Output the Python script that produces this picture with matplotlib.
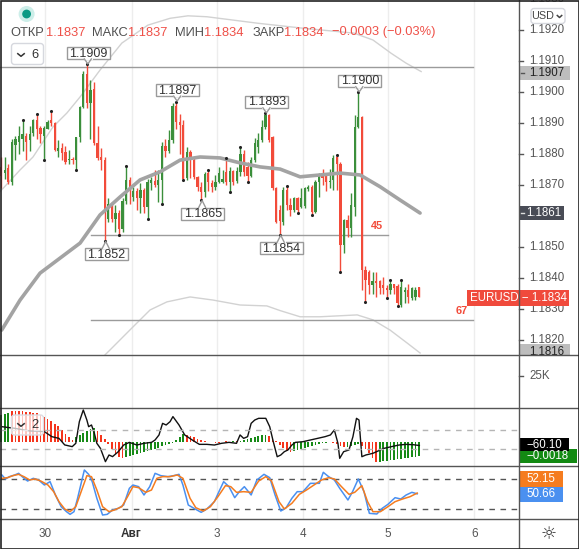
import numpy as np
import matplotlib
matplotlib.use("Agg")
import matplotlib.pyplot as plt
from matplotlib.patches import Rectangle, FancyBboxPatch, Circle

plt.rcParams['font.family'] = ['Liberation Sans', 'DejaVu Sans']

# ---------------- data (EURUSD, 1h candles) ----------------
opens = [1.1876, 1.1874, 1.18755, 1.1871, 1.1883, 1.1884, 1.1885, 1.1886, 1.18845, 1.18867,
         1.1891, 1.18885, 1.1886, 1.18883, 1.1891, 1.1890, 1.1881, 1.1882, 1.18808, 1.1878,
         1.18783, 1.1878, 1.18855, 1.18953, 1.1906, 1.18964, 1.1901, 1.18835, 1.1879, 1.1878,
         1.1859, 1.1864, 1.1859, 1.1861, 1.1856, 1.1865, 1.18717, 1.18663, 1.1868, 1.18657,
         1.18686, 1.1863, 1.18706, 1.18714, 1.1870, 1.18717, 1.18826, 1.1881, 1.18846, 1.18956,
         1.18905, 1.18894, 1.18723, 1.18808, 1.18781, 1.18727, 1.18695, 1.18678, 1.18738, 1.18708,
         1.18693, 1.18711, 1.18711, 1.18744, 1.18711, 1.18747, 1.18715, 1.18744, 1.1880, 1.18759,
         1.1873, 1.18781, 1.18824, 1.18846, 1.18889, 1.18926, 1.18857, 1.1869, 1.1862, 1.18582,
         1.18684, 1.18636, 1.1862, 1.18657, 1.1863, 1.18632, 1.18689, 1.18693, 1.18614, 1.18711,
         1.18733, 1.18733, 1.1871, 1.18717, 1.18792, 1.1877, 1.18507, 1.18588, 1.18561, 1.1863,
         1.18889, 1.18921, 1.18426, 1.1842, 1.18378, 1.18389, 1.18389, 1.18378, 1.18367, 1.1836,
         1.18381, 1.18375, 1.18313, 1.18355, 1.1836, 1.18335, 1.1834, 1.1837]
highs = [1.1879, 1.1879, 1.1877, 1.1885, 1.1886, 1.1889, 1.1891, 1.1887, 1.1889, 1.18915,
         1.1893, 1.1889, 1.1889, 1.1891, 1.1894, 1.18905, 1.18845, 1.18835, 1.18825, 1.18815,
         1.1879, 1.18857, 1.18955, 1.1907, 1.1909, 1.1904, 1.19034, 1.1889, 1.1882, 1.1879,
         1.18657, 1.18645, 1.18636, 1.1862, 1.1866, 1.18762, 1.18727, 1.18695, 1.1869, 1.18706,
         1.1869, 1.1872, 1.18725, 1.18749, 1.1875, 1.1884, 1.1885, 1.18878, 1.18964, 1.1897,
         1.1893, 1.1891, 1.18824, 1.18814, 1.1879, 1.1873, 1.1871, 1.18744, 1.18749, 1.18717,
         1.18733, 1.1876, 1.18749, 1.18787, 1.1876, 1.1875, 1.1876, 1.18824, 1.18814, 1.18776,
         1.1879, 1.18851, 1.18867, 1.1891, 1.18932, 1.1893, 1.1886, 1.18695, 1.18635, 1.18693,
         1.18697, 1.1866, 1.18663, 1.18663, 1.1869, 1.18695, 1.1870, 1.1870, 1.18717, 1.18738,
         1.18751, 1.1874, 1.18753, 1.18798, 1.18798, 1.18775, 1.1859, 1.18604, 1.18674, 1.18927,
         1.1900, 1.18924, 1.1844, 1.18426, 1.1842, 1.1842, 1.18395, 1.18404, 1.18378, 1.18394,
         1.18382, 1.1838, 1.18394, 1.18372, 1.1838, 1.18372, 1.18372, 1.1837]
lows = [1.1869, 1.1872, 1.18705, 1.1870, 1.1878, 1.1880, 1.1881, 1.1878, 1.1881, 1.1886,
        1.1885, 1.18835, 1.1878, 1.1888, 1.1889, 1.1881, 1.1879, 1.1878, 1.1877, 1.1877,
        1.1877, 1.1875, 1.1884, 1.1895, 1.1895, 1.1885, 1.1883, 1.1878, 1.1875, 1.1852,
        1.1858, 1.1858, 1.1855, 1.1854, 1.1855, 1.1864, 1.1864, 1.1865, 1.1862, 1.1861,
        1.1861, 1.1859, 1.18685, 1.18695, 1.18647, 1.1864, 1.1879, 1.18803, 1.18835, 1.1888,
        1.1880, 1.18717, 1.18717, 1.18722, 1.1872, 1.1868, 1.18652, 1.18663, 1.1868, 1.18679,
        1.18684, 1.18706, 1.18706, 1.1870, 1.18679, 1.1870, 1.18706, 1.1873, 1.1873, 1.18711,
        1.18727, 1.18775, 1.18803, 1.1884, 1.1888, 1.1884, 1.18685, 1.18577, 1.1854, 1.18572,
        1.1862, 1.1860, 1.18614, 1.18611, 1.18625, 1.18625, 1.1868, 1.18604, 1.18609, 1.18663,
        1.1870, 1.1868, 1.1869, 1.18685, 1.18685, 1.18421, 1.1848, 1.18534, 1.18534, 1.1860,
        1.18884, 1.1836, 1.18324, 1.1835, 1.1835, 1.1834, 1.1835, 1.1835, 1.18335, 1.1835,
        1.1835, 1.1831, 1.18308, 1.18318, 1.1832, 1.1833, 1.1833, 1.1834]
closes = [1.1873, 1.1875, 1.1871, 1.1884, 1.1885, 1.1886, 1.18865, 1.1884, 1.18865, 1.1891,
          1.1888, 1.18865, 1.18885, 1.18905, 1.1890, 1.18815, 1.1882, 1.18805, 1.18775, 1.18783,
          1.1878, 1.18855, 1.18953, 1.1906, 1.18964, 1.19007, 1.18835, 1.18787, 1.1878, 1.1861,
          1.1864, 1.1859, 1.1861, 1.1856, 1.1865, 1.18717, 1.18684, 1.1868, 1.18657, 1.18686,
          1.1863, 1.18711, 1.18716, 1.1870, 1.18717, 1.18826, 1.1881, 1.18846, 1.18956, 1.18905,
          1.18894, 1.1872, 1.18808, 1.18781, 1.18727, 1.18695, 1.18678, 1.18736, 1.18711, 1.18693,
          1.18711, 1.1874, 1.18719, 1.18711, 1.18747, 1.18711, 1.18745, 1.1880, 1.18744, 1.1873,
          1.18781, 1.18835, 1.18846, 1.18889, 1.18926, 1.18846, 1.1869, 1.18582, 1.18585, 1.18684,
          1.18636, 1.1862, 1.18657, 1.1862, 1.1866, 1.1869, 1.18693, 1.18614, 1.18711, 1.18733,
          1.18722, 1.18711, 1.18715, 1.18787, 1.1877, 1.18507, 1.18588, 1.18561, 1.18636, 1.18889,
          1.18921, 1.18426, 1.18394, 1.18378, 1.18389, 1.18383, 1.18367, 1.18367, 1.1836, 1.18381,
          1.18367, 1.1832, 1.18372, 1.1836, 1.1834, 1.18367, 1.18361, 1.1834]

fractal_high_idx = [6, 10, 14, 24, 35, 49, 58, 63, 67, 74, 80, 94, 100, 109, 112]
fractal_low_idx = [12, 21, 29, 33, 41, 45, 51, 56, 64, 69, 78, 83, 87, 95, 102, 108, 111]
boxed_high_idx = [24, 49, 74, 100]
boxed_low_idx = [29, 56, 78]

# moving average (thick) and thin envelope lines
ma_x = [0.15, 5.3, 10.9, 22.1, 27.7, 33.3, 38.9, 44.5, 50.1, 55.7, 61.3, 66.9, 72.5, 78.1,
        83.7, 89.3, 94.9, 100.5, 106.1, 111.7, 117.3]
ma_y = [1.18232, 1.18329, 1.18416, 1.18513, 1.18604, 1.18662, 1.18717, 1.18743, 1.18781,
        1.18791, 1.18788, 1.18772, 1.18759, 1.18752, 1.18727, 1.18733, 1.18739, 1.18733,
        1.18695, 1.18652, 1.18610]
ub_x = [-0.32, 5.28, 8.92, 14.5, 18.4, 22.1, 27.7, 33.8, 41.1, 47.3, 52.3, 57.6, 71.9, 84.5,
        98.8, 104.1, 109.2, 113.4, 117.6]
ub_y = [1.18679, 1.18749, 1.18791, 1.18888, 1.18933, 1.18985, 1.19072, 1.19159, 1.19217,
        1.19239, 1.19247, 1.19244, 1.19223, 1.19207, 1.19191, 1.19169, 1.19126, 1.19094, 1.19067]
lb_x = [29.1, 30.5, 36.9, 41.7, 46.4, 52.9, 59.3, 66.9, 74.4, 78.1, 83.7, 89.3, 99.7, 104.1,
        108.9, 113.7, 117.3]
lb_y = [1.18152, 1.18168, 1.18242, 1.18297, 1.18323, 1.18339, 1.18329, 1.18313, 1.18310,
        1.18295, 1.18275, 1.18275, 1.18281, 1.18265, 1.18232, 1.18190, 1.18158]

# drawn horizontal rays
hl_level = [1.19083, 1.18538, 1.18266]
hl_start = [-0.3, 25.2, 25.2]
hl_end = [132.1, 108.3, 132.1]

# MACD-like histogram and its colours (g = green, r = red)
hist = [27, 28, 29, 31, 31, 31, 31, 30, 30, 29, 29, 27, 25, 23, 21, 18, 16, 12, 8, 5, 2,
        5, 7, 9, 11, 13, 14,
        11, 7, 3, -2,
        -7, -12, -15, -16,
        -15, -14, -13, -12, -11, -10, -9, -8, -7, -6, -4, -3, -2, -1,
        2, 5, 8,
        7, 6, 5, 3, 2, 1, 0.5,
        0.5, -1, -1, 0.5, 1, 0.5, 1, 1, 1, 2,
        3, 4, 5, 6, 7, 7.5,
        6, 4, 1, -3, -6, -9, -10,
        -9, -8, -7, -6, -5, -4, -3, -2, -1, -0.5, 0.5,
        -1, -2, -3.5, -4.5,
        -5, -4, -3, -2,
        -4, -7, -11, -16, -20,
        -19.5, -19, -18.5, -18, -17.5, -17, -16.5, -16, -15.5, -15, -14.5, -14]
hist_col = ("ggg" + "rrrrrrrrrrrrrrrrrr" + "gggggg" + "rrrrrrrr" + "ggggggggggggggggg" +
            "rrrrrrr" + "grrgrggrgg" + "gggggg" + "rrrrrrr" + "ggggggggggg" + "rrrr" +
            "gggg" + "rrrrr" + "gggggggggggg")

cci_points = [(0.2, 138), (3.8, 121), (8.0, 93), (12.1, 86), (14.2, 33), (16.2, 15), (17.8, -54),
              (19.9, -72), (20.9, -37), (21.9, 191), (23.0, 314), (24.0, 208), (24.5, 138),
              (25.3, 156), (26.1, 68), (26.8, -37), (27.8, -90), (29.2, -230), (30.2, -160),
              (31.2, -177), (32.8, -125), (34.3, -55), (35.9, -27), (38.0, -55), (40.0, -37),
              (42.1, -27), (43.1, -2), (44.2, 51), (45.2, 173), (46.2, 156), (47.3, 191),
              (48.1, 244), (48.8, 208), (49.8, 156), (51.4, 51), (53.5, -2), (55.5, -48),
              (57.6, -48), (59.7, -55), (61.7, -37), (63.8, -27), (65.9, -37), (66.9, 51),
              (67.9, 15), (69.0, 33), (70.0, 173), (71.0, 208), (72.1, 226), (74.1, 226),
              (75.2, 138), (76.2, -20), (77.3, -178), (78.3, -160), (79.3, -125), (80.3, -107),
              (81.4, -55), (82.4, -27), (84.5, -20), (86.6, -2), (88.6, 15), (90.7, 33),
              (92.2, 51), (93.3, 103), (94.3, -37), (94.8, -195), (95.9, -125), (97.4, -107),
              (98.5, 33), (99.5, 226), (100.2, 208), (101.0, -178), (102.1, -160), (104.1, -142),
              (107.2, -90), (109.3, -72), (111.4, -55), (113.4, -48), (115.5, -52), (117.1, -60.10)]

stoch_k_points = [(0.2, 87.9), (1.2, 80.0), (2.3, 84.6), (3.8, 87.9), (4.9, 91.2), (5.9, 84.6),
                  (7.4, 76.0), (9.0, 81.3), (10.5, 78.0), (12.1, 68.1), (13.7, 74.7), (15.2, 48.3),
                  (16.8, 25.2), (18.3, 15.3), (19.3, 10.0), (20.4, 15.3), (21.4, 41.7), (22.4, 71.4),
                  (23.3, 97.8), (24.5, 89.2), (25.5, 74.7), (26.8, 41.7), (28.4, 8.7), (29.7, 10.0),
                  (31.2, 18.6), (32.8, 21.9), (34.3, 28.5), (35.9, 61.5), (36.9, 68.1), (38.5, 64.8),
                  (40.0, 48.3), (41.6, 64.8), (43.1, 91.2), (44.7, 86.6), (46.7, 84.6), (48.3, 86.6),
                  (49.8, 89.2), (50.9, 68.1), (52.4, 28.5), (54.0, 21.9), (56.0, 14.0), (57.6, 20.6),
                  (59.7, 35.1), (61.2, 58.2), (62.3, 74.7), (63.8, 64.8), (65.4, 43.0), (66.7, 54.9),
                  (68.1, 64.8), (70.0, 48.3), (71.6, 78.0), (73.6, 89.2), (75.2, 82.6), (76.7, 48.3),
                  (78.3, 16.6), (79.8, 23.2), (81.4, 41.7), (82.9, 54.9), (84.5, 54.9), (86.6, 71.4),
                  (89.1, 71.4), (90.2, 93.2), (91.7, 84.6), (93.3, 78.0), (94.8, 61.5), (97.1, 38.4),
                  (98.4, 54.9), (100.0, 80.0), (101.6, 54.9), (103.1, 12.0), (105.2, 10.7),
                  (106.7, 21.9), (108.3, 29.8), (110.3, 43.0), (111.9, 40.4), (113.4, 48.3),
                  (115.0, 53.6), (116.5, 50.66)]
stoch_d_points = [(0.2, 81.3), (1.8, 82.6), (3.3, 86.6), (4.9, 89.2), (6.4, 84.6), (8.0, 78.0),
                  (9.5, 80.0), (11.1, 76.0), (13.1, 68.1), (14.7, 54.9), (16.2, 35.1), (17.8, 20.6),
                  (19.3, 15.3), (20.9, 25.2), (22.4, 54.9), (24.0, 86.6), (25.3, 84.6), (26.8, 58.2),
                  (28.4, 25.2), (30.2, 15.3), (31.7, 18.6), (33.8, 25.2), (35.4, 45.0), (36.9, 64.8),
                  (38.5, 62.8), (40.5, 53.6), (42.1, 58.2), (43.6, 81.3), (45.2, 84.6), (47.3, 84.6),
                  (49.3, 87.9), (50.9, 81.3), (52.9, 41.7), (54.5, 23.2), (56.6, 16.6), (58.6, 25.2),
                  (60.7, 45.0), (62.8, 66.8), (64.3, 64.8), (65.9, 53.6), (67.9, 54.9), (70.0, 53.6),
                  (72.1, 76.0), (74.1, 84.6), (75.7, 76.0), (77.8, 35.1), (79.3, 20.6), (81.4, 31.8),
                  (83.5, 49.6), (85.5, 58.2), (87.6, 68.1), (89.7, 78.0), (91.7, 82.6), (93.3, 80.0),
                  (95.3, 64.8), (97.4, 49.6), (99.0, 53.6), (101.0, 66.8), (102.6, 35.1),
                  (104.1, 15.3), (106.2, 15.3), (108.3, 25.2), (110.3, 35.1), (112.4, 40.4),
                  (114.5, 45.0), (116.5, 52.15)]

day_ticks = [12.3, 36.5, 60.4, 84.4, 108.4, 132.5]
day_labels = ['30', 'Авг', '3', '4', '5', '6']
price_ticks = [1.182, 1.183, 1.184, 1.185, 1.187, 1.188, 1.189, 1.190, 1.191, 1.192, 1.193]

hdr_labels = ['ОТКР', 'МАКС', 'МИН', 'ЗАКР']
hdr_values = ['1.1837', '1.1837', '1.1834', '1.1834']
hdr_change = '−0.0003 (−0.03%)'

# ---------------- styling ----------------
GREEN = '#3b8f3b'
RED = '#f24b3a'
HG = '#178a17'
HR = '#f5351c'
TXT = '#555555'
SEP = '#555555'
GRID = '#ededed'

W, H = 579, 549
fig = plt.figure(figsize=(W / 100, H / 100), dpi=100)
fig.patch.set_facecolor('white')


def frect(x0, y0, x1, y1):
    return [x0 / W, 1 - y1 / H, (x1 - x0) / W, (y1 - y0) / H]


XL = (-0.32, 145.0)
ax = fig.add_axes(frect(0, 0, 519, 355))
axv = fig.add_axes(frect(0, 355, 519, 408))
axm = fig.add_axes(frect(0, 408, 519, 466))
axc = fig.add_axes(frect(0, 408, 519, 466))
axs = fig.add_axes(frect(0, 466, 519, 519))
for a in (ax, axv, axm, axc, axs):
    a.set_xlim(*XL)
    a.set_axis_off()
ov = fig.add_axes([0, 0, 1, 1])
ov.set_xlim(0, W)
ov.set_ylim(H, 0)
ov.set_axis_off()

ax.set_ylim(1.181515, 1.192981)
axm.set_ylim(-23.7, 34.3)
axc.set_ylim(-275.8, 334.7)
axs.set_ylim(0.8, 105.7)
axv.set_ylim(0, 1)

for a in (ax, axv, axm, axs):
    for t in day_ticks:
        a.axvline(t, color=GRID, lw=1, zorder=0)

# ---- candles
o = np.array(opens); hi = np.array(highs); lo = np.array(lows); c = np.array(closes)
idx = np.arange(len(o))
col = [GREEN if cc >= oo else RED for oo, cc in zip(o, c)]
ax.vlines(idx, lo, hi, colors=col, lw=1.0, zorder=3)
body = np.maximum(np.abs(c - o), 0.00003)
ax.bar(idx, body, bottom=np.minimum(o, c), width=0.64, color=col, linewidth=0, zorder=4)

# ---- lines
ax.plot(ub_x, ub_y, color='#d2d2d2', lw=1.0, zorder=2)
ax.plot(lb_x, lb_y, color='#d2d2d2', lw=1.0, zorder=2)
ax.plot(ma_x, ma_y, color='#a3a3a3', lw=2.6, zorder=5, solid_capstyle='round')
for lv, s, e in zip(hl_level, hl_start, hl_end):
    ax.plot([s, e], [lv, lv], color='#9b9b9b', lw=1.0, zorder=2)

ax.scatter(fractal_high_idx, hi[fractal_high_idx], s=5, color='#222222', zorder=6, linewidths=0)
ax.scatter(fractal_low_idx, lo[fractal_low_idx], s=5, color='#222222', zorder=6, linewidths=0)


def px(i):
    return ax.transData.transform((i, 1.187))[0]


def py(v):
    return H - ax.transData.transform((0, v))[1]


# boxed high/low labels
for i in boxed_high_idx + boxed_low_idx:
    is_h = i in boxed_high_idx
    v = hi[i] if is_h else lo[i]
    x = px(i) + 1.5
    y = py(v)
    if is_h:
        cy = y - 11.5
        edge = cy + 6
        tip = y - 0.5
    else:
        cy = y + 13.5
        edge = cy - 6
        tip = y + 0.5
    ov.add_patch(Rectangle((x - 21.5, cy - 6), 43, 12, fc='white', ec='#9a9a9a', lw=1, zorder=8))
    ov.plot([x - 3.5, x + 3.5], [edge, edge], color='white', lw=1.4, zorder=9)
    ov.plot([x - 4, x - 0.5, x + 3], [edge, tip, edge], color='#9a9a9a', lw=1, zorder=9)
    ov.text(x, cy + 0.6, f'{v:.4f}', fontsize=9, color='#333333', ha='center', va='center', zorder=10)

# red numbers on rays
ov.text(377, 226, '45', color=RED, fontsize=7.8, fontweight='bold', ha='center', va='center')
ov.text(462, 311, '67', color=RED, fontsize=7.8, fontweight='bold', ha='center', va='center')

# ---- MACD pane
axm.bar(idx, hist, width=0.5, color=[HG if ch == 'g' else HR for ch in hist_col], linewidth=0)
cx = [p[0] for p in cci_points]
cv = [p[1] for p in cci_points]
axc.plot(cx, cv, color='#111111', lw=1.0)
for lvl in (100, -100):
    axc.axhline(lvl, color='#b5b5b5', lw=1, ls=(0, (4, 4)))

# ---- Stochastic pane
axs.axhline(80, color='#555555', lw=1, ls=(0, (4, 4)))
axs.axhline(20, color='#555555', lw=1, ls=(0, (4, 4)))
axs.plot([p[0] for p in stoch_k_points], [p[1] for p in stoch_k_points], color='#4a90f0', lw=1.1)
axs.plot([p[0] for p in stoch_d_points], [p[1] for p in stoch_d_points], color='#f57c1f', lw=1.1)

# ---- separators & border
for yy in (355, 408, 466, 519):
    ov.plot([0, W], [yy, yy], color=SEP, lw=1, zorder=20)
ov.plot([519, 519], [0, H], color=SEP, lw=1, zorder=20)
ov.add_patch(Rectangle((0.5, 0.5), W - 1, H - 1, fill=False, ec='#222222', lw=1.2, zorder=30))

# ---- price axis
clip = Rectangle((0, 0), W, 355, transform=ov.transData)
for p in price_ticks:
    y = py(p)
    t = ov.text(529, y, f'{p:.4f}', fontsize=8.3, color=TXT, ha='left', va='center', zorder=11)
    t.set_clip_path(clip)
    if 0 < y < 355:
        ov.plot([519, 523], [y, y], color=SEP, lw=1, zorder=11)


def side_label(x0, x1, yc, text, fc, tc, h=14, fs=8.3, cx=None, bold=False, clipit=False,
               dash=None):
    r = Rectangle((x0, yc - h / 2), x1 - x0, h, fc=fc, ec='none', zorder=12)
    ov.add_patch(r)
    t = ov.text((x0 + x1) / 2 if cx is None else cx, yc + 0.3, text, fontsize=fs, color=tc,
                ha='center', va='center', zorder=13, fontweight='bold' if bold else 'normal')
    if dash is not None:
        ov.plot([x0 + 0.5, x0 + 4], [yc, yc], color=dash, lw=1, zorder=13)
    if clipit:
        r.set_clip_path(clip)
        t.set_clip_path(clip)


side_label(520, 570, py(ub_y[-1]) + 1.5, f'{ub_y[-1]:.4f}', '#bdbdbd', '#222222', cx=547,
           dash='#555555')
side_label(520, 564, py(ma_y[-1]), f'{ma_y[-1]:.4f}', '#494c56', 'white', cx=544, dash='#dddddd')
side_label(467, 569, py(closes[-1]) + 1.5, f'EURUSD − {closes[-1]:.4f}', '#f04a3c', 'white', h=16)
side_label(520, 570, py(lb_y[-1]) - 1.5, f'{lb_y[-1]:.4f}', '#bdbdbd', '#222222', clipit=True,
           cx=547)

# volume pane label
ov.text(529, 376, '25K', fontsize=8.3, color=TXT, ha='left', va='center')
ov.plot([519, 523], [376, 376], color=SEP, lw=1)

# MACD / CCI labels
side_label(519.5, 577, 456, '−0.0018', '#138a13', 'white', h=14, cx=548)
side_label(519.5, 569, 444.5, f'{cci_points[-1][1]:.2f}'.replace('-', '−'), '#000000', 'white', h=13, cx=544)
side_label(519.5, 563, 478.5, f'{stoch_d_points[-1][1]:.2f}', '#f57c1f', 'white', h=16, cx=541)
side_label(519.5, 563, 494, f'{stoch_k_points[-1][1]:.2f}', '#4a90f0', 'white', h=15, cx=541)

# time axis labels
for t, lab in zip(day_ticks, day_labels):
    ov.text(px(t), 534, lab, fontsize=8.5, color=TXT if lab != 'Авг' else '#333333',
            ha='center', va='center', fontweight='bold' if lab == 'Авг' else 'normal')
ov.text(548.5, 534, '☼', fontsize=13, color='#333333', ha='center', va='center',
        family=['DejaVu Sans'])

# ---- header
hx_lab = [10.3, 91.6, 175.4, 252.2]
hx_val = [46.2, 128.1, 204.2, 284.3]
for xl, xv, lab, val in zip(hx_lab, hx_val, hdr_labels, hdr_values):
    ov.text(xl, 32.5, lab, fontsize=9.3, color='#505050', ha='left', va='center')
    ov.text(xv, 32.5, val, fontsize=9.3, color='#ef5048', ha='left', va='center')
ov.text(331.6, 32.5, hdr_change, fontsize=9.3, color='#ef5048', ha='left', va='center')

# status dot
ov.add_patch(Circle((26.6, 14), 8, fc='#cdeee9', ec='none', zorder=12))
ov.add_patch(Circle((26.6, 14), 4.4, fc='#0a9a84', ec='none', zorder=13))


def chevron(x, y, w=3.2, h=2.6, color='#333333'):
    ov.plot([x - w, x, x + w], [y - h / 2, y + h / 2, y - h / 2], color=color, lw=1.1, zorder=15)


# collapse boxes
ov.add_patch(FancyBboxPatch((11.5, 43.5), 32, 21, boxstyle='round,pad=0,rounding_size=3',
                            fc='white', ec='#d6d8de', lw=1, zorder=12))
chevron(21, 55)
ov.text(35, 55.5, '6', fontsize=9.3, color='#333333', ha='center', va='center', zorder=15)

ov.add_patch(FancyBboxPatch((11.5, 415), 32, 20, boxstyle='round,pad=0,rounding_size=3',
                            fc=(1, 1, 1, 0.72), ec='#dcdde2', lw=1, zorder=12))
chevron(21, 425)
ov.text(35, 425.5, '2', fontsize=9.3, color='#333333', ha='center', va='center', zorder=15)

ov.add_patch(FancyBboxPatch((531, 8.5), 34, 15, boxstyle='round,pad=0,rounding_size=3',
                            fc='white', ec='#d6d8de', lw=1, zorder=12))
ov.text(543, 16.3, 'USD', fontsize=7.8, color='#444444', ha='center', va='center', zorder=15)
chevron(559.5, 16.5, w=2.2, h=2, color='#444444')

fig.savefig('out.png', dpi=100, facecolor='white')
